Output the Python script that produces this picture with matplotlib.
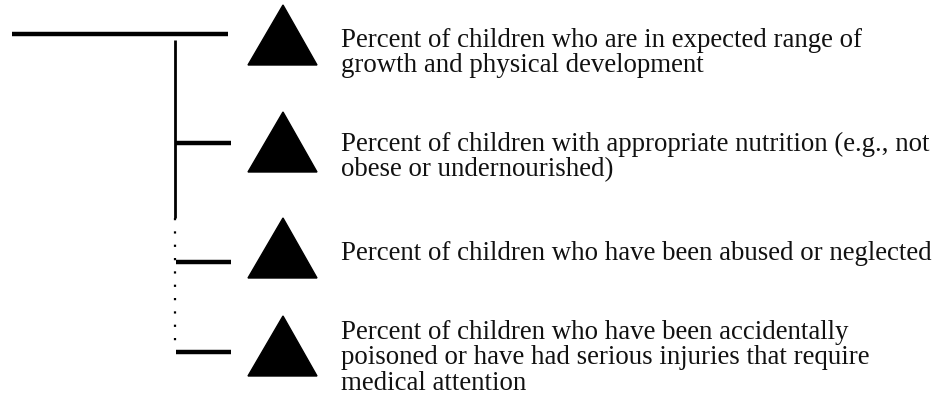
import matplotlib.pyplot as plt
from matplotlib.patches import Polygon

plt.rcParams["font.family"] = ["Liberation Serif", "DejaVu Serif"]

labels = [
    "Percent of children who are in expected range of\ngrowth and physical development",
    "Percent of children with appropriate nutrition (e.g., not\nobese or undernourished)",
    "Percent of children who have been abused or neglected",
    "Percent of children who have been accidentally\npoisoned or have had serious injuries that require\nmedical attention",
]
# layout in pixel units of the 939x400 canvas
branch_y = [34, 143, 262, 352]
tri_top = [5, 112, 218, 316]
text_y = [53, 157, 253, 358]

fig = plt.figure(figsize=(9.39, 4.0), dpi=100)
ax = fig.add_axes([0, 0, 1, 1])
ax.set_xlim(0, 939)
ax.set_ylim(400, 0)
ax.axis("off")

# trunk line and vertical connector
ax.plot([12, 228], [branch_y[0], branch_y[0]], color="black", lw=3.2, solid_capstyle="butt")
ax.plot([175, 175], [40, 218], color="black", lw=2.0, solid_capstyle="butt")
ax.plot([175, 175], [218, 350], color="black", lw=1.6, linestyle=(0, (1, 5)))

for i, (by, ty, lab) in enumerate(zip(branch_y, tri_top, labels)):
    if i > 0:
        ax.plot([176, 231], [by, by], color="black", lw=3.2, solid_capstyle="butt")
    tri = Polygon([[283, ty], [248, ty + 60], [317, ty + 60]], closed=True,
                  facecolor="black", edgecolor="black")
    ax.add_patch(tri)
    ax.text(341, text_y[i], lab, fontsize=19.4, va="center", ha="left",
            linespacing=1.05, color="#111111")

fig.savefig("out.png", dpi=100)
